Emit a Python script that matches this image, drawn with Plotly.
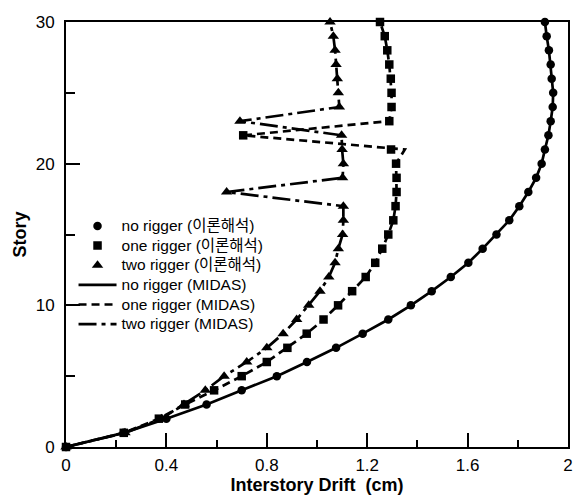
import plotly.graph_objects as go

stories = list(range(31))

no_rigger = [0, 0.23, 0.40, 0.56, 0.70, 0.84, 0.96, 1.076, 1.182, 1.284, 1.374,
             1.457, 1.533, 1.603, 1.660, 1.715, 1.766, 1.806, 1.842, 1.873, 1.895,
             1.908, 1.922, 1.931, 1.939, 1.941, 1.935, 1.931, 1.924, 1.915, 1.908]

one_rigger = [0, 0.23, 0.37, 0.475, 0.59, 0.70, 0.80, 0.882, 0.959, 1.026, 1.084,
              1.14, 1.194, 1.232, 1.26, 1.284, 1.304, 1.313, 1.317, 1.317, 1.315,
              1.295, 0.706, 1.288, 1.297, 1.297, 1.294, 1.288, 1.28, 1.27, 1.251]

one_rigger_midas = [0, 0.23, 0.37, 0.475, 0.59, 0.70, 0.80, 0.882, 0.959, 1.026, 1.084,
                    1.14, 1.194, 1.232, 1.26, 1.284, 1.304, 1.313, 1.317, 1.317, 1.315,
                    1.35, 0.706, 1.288, 1.297, 1.297, 1.294, 1.288, 1.28, 1.27, 1.251]

two_rigger = [0, 0.235, 0.38, 0.47, 0.555, 0.63, 0.72, 0.80, 0.865, 0.919, 0.967,
              1.012, 1.047, 1.072, 1.085, 1.102, 1.105, 1.105, 0.64, 1.102, 1.105,
              1.10, 1.098, 0.693, 1.089, 1.085, 1.081, 1.076, 1.072, 1.065, 1.052]

legend_names = ["no rigger (이론해석)", "one rigger (이론해석)", "two rigger (이론해석)",
                "no rigger (MIDAS)", "one rigger (MIDAS)", "two rigger (MIDAS)"]

xtick_vals = [0, 0.4, 0.8, 1.2, 1.6, 2]
xtick_text = ["0", "0.4", "0.8", "1.2", "1.6", "2"]
ytick_vals = [0, 10, 20, 30]

FONT = "Liberation Sans, Arial, Noto Sans CJK KR, sans-serif"


def lg(name):
    return '<span style="font-size:15.5px">' + name + '</span>'


fig = go.Figure()

# theory markers
fig.add_trace(go.Scatter(x=no_rigger, y=stories, mode="markers", name=lg(legend_names[0]),
                         marker=dict(symbol="circle", size=8.5, color="black"), cliponaxis=False))
fig.add_trace(go.Scatter(x=one_rigger, y=stories, mode="markers", name=lg(legend_names[1]),
                         marker=dict(symbol="square", size=8.5, color="black"), cliponaxis=False))
fig.add_trace(go.Scatter(x=two_rigger, y=stories, mode="markers", name=lg(legend_names[2]),
                         marker=dict(symbol="triangle-up", size=10, color="black"), cliponaxis=False))
# MIDAS lines
fig.add_trace(go.Scatter(x=no_rigger, y=stories, mode="lines", name=lg(legend_names[3]),
                         line=dict(color="black", width=2.7), cliponaxis=False))
fig.add_trace(go.Scatter(x=one_rigger_midas, y=stories, mode="lines", name=lg(legend_names[4]),
                         line=dict(color="black", width=2.7, dash="8px,5px"), cliponaxis=False))
fig.add_trace(go.Scatter(x=two_rigger, y=stories, mode="lines", name=lg(legend_names[5]),
                         line=dict(color="black", width=2.7, dash="18px,5px,4px,5px"), cliponaxis=False))

fig.update_layout(
    width=579, height=491,
    margin=dict(l=58, r=19, t=14, b=52, autoexpand=False),
    paper_bgcolor="white", plot_bgcolor="white",
    font=dict(family=FONT, color="black"),
    showlegend=True,
    legend=dict(x=0.015, y=0.555, xanchor="left", yanchor="top",
                bgcolor="rgba(0,0,0,0)", font=dict(size=12.8, family=FONT),
                itemwidth=38, tracegroupgap=0),
)

fig.update_xaxes(
    range=[0, 2], tickvals=xtick_vals, ticktext=xtick_text,
    ticks="inside", ticklen=14, tickwidth=1.5, tickcolor="black",
    minor=dict(dtick=0.2, ticks="inside", ticklen=7, tickwidth=1.5, tickcolor="black"),
    showline=True, linecolor="black", linewidth=2, mirror=True,
    showgrid=False, zeroline=False, automargin=False,
    tickfont=dict(size=17, family=FONT), ticklabelstandoff=2,
    title=dict(text="<b>Interstory Drift\u00a0 (cm)</b>", font=dict(size=18, family=FONT), standoff=4),
)
fig.update_yaxes(
    range=[0, 30], tickvals=ytick_vals,
    ticks="inside", ticklen=14, tickwidth=1.5, tickcolor="black",
    minor=dict(dtick=5, ticks="inside", ticklen=9, tickwidth=1.5, tickcolor="black"),
    showline=True, linecolor="black", linewidth=2, mirror=True,
    showgrid=False, zeroline=False, automargin=False,
    tickfont=dict(size=17, family=FONT), ticklabelstandoff=6,
    title=dict(text="<b>Story</b>", font=dict(size=18, family=FONT), standoff=4),
)

fig.write_html("out.html")
